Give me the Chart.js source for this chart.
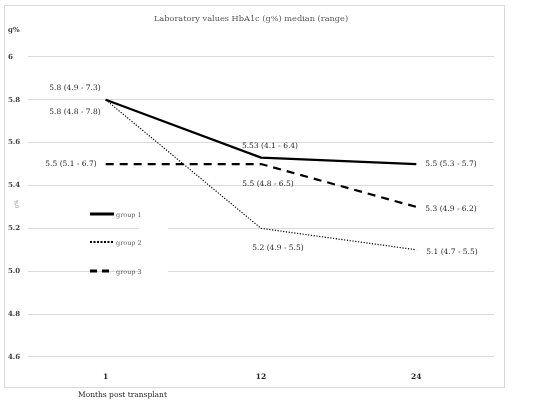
<!DOCTYPE html>
<html>
<head>
<meta charset="utf-8">
<script src="https://cdn.jsdelivr.net/npm/chart.js@4.4.1/dist/chart.umd.min.js"></script>
<style>
  html, body { margin: 0; padding: 0; background: #fff; }
  #wrap { width: 533px; height: 405px; }
</style>
</head>
<body>
<div id="wrap"><canvas id="grafico"></canvas></div>
<script>
// datos
var meses = ["1", "12", "24"];
var grupo1 = [5.8, 5.53, 5.5];
var grupo2 = [5.8, 5.2, 5.1];
var grupo3 = [5.5, 5.5, 5.3];
var rangos1 = ["5.8 (4.9 - 7.3)", "5.53 (4.1 - 6.4)", "5.5 (5.3 - 5.7)"];
var rangos2 = ["5.8 (4.8 - 7.8)", "5.2 (4.9 - 5.5)", "5.1 (4.7 - 5.5)"];
var rangos3 = ["5.5 (5.1 - 6.7)", "5.5 (4.8 - 6.5)", "5.3 (4.9 - 6.2)"];
var nombres = ["group 1", "group 2", "group 3"];
var yMin = 4.6, yMax = 6.0, yPaso = 0.2;

var fuente = "'DejaVu Serif', 'Liberation Serif', serif";

// donde va cada etiqueta respecto al punto: [dx, dy, align]
var posEtiq = [
  [[-5, -12, "right"], [9, -12, "center"], [9, 0, "left"]],
  [[-5, 12, "right"], [17, 20, "center"], [10, 2, "left"]],
  [[-9, 0, "right"], [7, 20, "center"], [9, 2, "left"]]
];
var textos = [rangos1, rangos2, rangos3];

var extras = {
  id: "extras",
  beforeDraw: function(chart) {
    var c = chart.ctx;
    c.save();
    c.fillStyle = "#fff";
    c.fillRect(0, 0, chart.width, chart.height);
    c.strokeStyle = "#d9d9d9";
    c.lineWidth = 1;
    c.strokeRect(4.5, 5.5, 500, 382);
    c.restore();
  },
  beforeDatasetsDraw: function(chart) {
    // hueco blanco de la leyenda sobre las lineas de grilla
    var c = chart.ctx;
    c.save();
    c.fillStyle = "#fff";
    c.fillRect(139, 196, 29, 86);
    c.restore();
  },
  afterDatasetsDraw: function(chart) {
    var c = chart.ctx;
    c.save();
    // etiquetas de datos
    c.font = "7.5px " + fuente;
    c.fillStyle = "#262626";
    c.textBaseline = "middle";
    chart.data.datasets.forEach(function(ds, i) {
      var meta = chart.getDatasetMeta(i);
      meta.data.forEach(function(p, j) {
        var q = posEtiq[i][j];
        c.textAlign = q[2];
        c.fillText(textos[i][j], p.x + q[0], p.y + q[1]);
      });
    });

    // leyenda dentro del grafico
    var ys = [214, 242, 271];
    chart.data.datasets.forEach(function(ds, i) {
      c.beginPath();
      c.strokeStyle = "#000";
      c.lineWidth = i == 1 ? 2 : 3;
      c.setLineDash(i == 0 ? [] : (i == 1 ? [2, 1.5] : [7, 5]));
      c.moveTo(90, ys[i]);
      c.lineTo(114, ys[i]);
      c.stroke();
    });
    c.setLineDash([]);
    c.font = "6.5px " + fuente;
    c.fillStyle = "#595959";
    c.textAlign = "left";
    nombres.forEach(function(n, i) {
      c.fillText(n, 116, ys[i] + 1);
    });

    // textos sueltos
    c.font = "bold 7px " + fuente;
    c.fillStyle = "#404040";
    c.fillText("g%", 8, 30);
    c.font = "7.5px " + fuente;
    c.fillStyle = "#262626";
    c.fillText("Months post transplant", 78, 395);
    c.translate(17, 204);
    c.rotate(-Math.PI / 2);
    c.font = "5px " + fuente;
    c.fillStyle = "#8c8c8c";
    c.textAlign = "center";
    c.fillText("g%", 0, 0);
    c.restore();
  }
};

var chart = new Chart(document.getElementById("grafico"), {
  type: "line",
  data: {
    labels: meses,
    datasets: [
      { label: nombres[0], data: grupo1, borderColor: "#000", borderWidth: 2.2, pointRadius: 0, tension: 0 },
      { label: nombres[1], data: grupo2, borderColor: "#000", borderWidth: 1.2, borderDash: [1.2, 1.6], pointRadius: 0, tension: 0 },
      { label: nombres[2], data: grupo3, borderColor: "#000", borderWidth: 2.2, borderDash: [8, 6], pointRadius: 0, tension: 0 }
    ]
  },
  options: {
    responsive: true,
    maintainAspectRatio: false,
    animation: false,
    layout: { padding: { left: 8, right: 39, top: 5, bottom: 18 } },
    plugins: {
      legend: { display: false },
      tooltip: { enabled: false },
      title: {
        display: true,
        text: "Laboratory values HbA1c (g%) median (range)",
        color: "#595959",
        font: { family: fuente, size: 8.2, weight: "normal" },
        padding: { top: 9, bottom: 33 }
      }
    },
    scales: {
      x: {
        offset: true,
        grid: { display: false, drawTicks: false },
        border: { display: false },
        ticks: { color: "#262626", font: { family: fuente, size: 7.5, weight: "bold" }, padding: 16, maxRotation: 0 },
        afterFit: function(s) { s.height = 30; }
      },
      y: {
        min: yMin,
        max: yMax,
        grid: { color: "#d9d9d9", drawTicks: false },
        border: { display: false },
        ticks: {
          stepSize: yPaso,
          crossAlign: "far",
          color: "#404040",
          font: { family: fuente, size: 7, weight: "bold" },
          callback: function(v) { return Math.abs(v - 6) < 1e-9 ? "6" : Number(v).toFixed(1); }
        },
        afterFit: function(s) { s.width = 20; }
      }
    }
  },
  plugins: [extras]
});
</script>
</body>
</html>
